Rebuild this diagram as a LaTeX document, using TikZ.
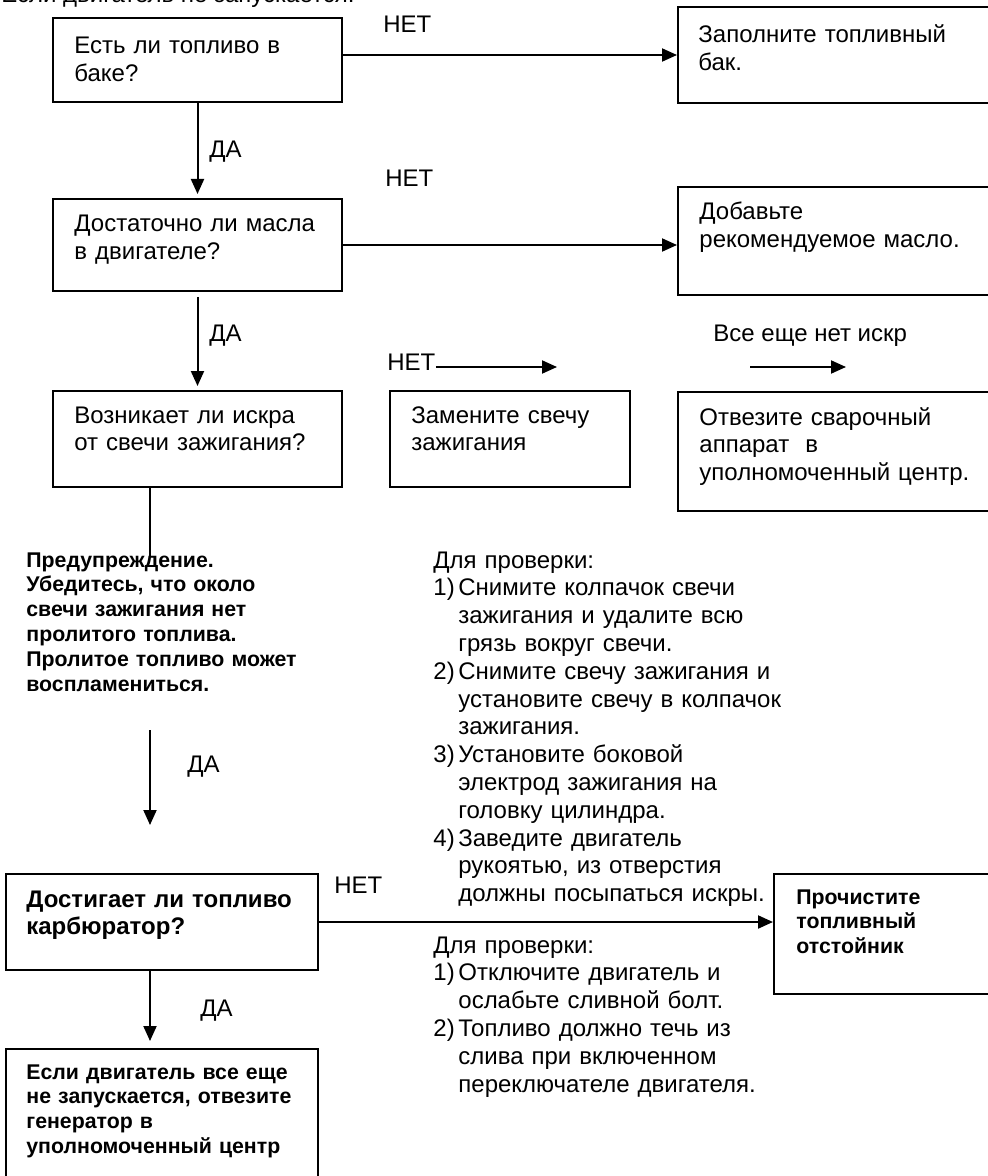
\documentclass[tikz,border=0pt]{standalone}
\usepackage{fontspec}
\setmainfont{Liberation Sans}
\usetikzlibrary{arrows.meta, fit}

\begin{document}
\begin{tikzpicture}[x=0.5pt, y=-0.5pt]
    \tikzset{
        box/.style = {rectangle, draw, line width=1pt, inner sep=0pt},
        lbl/.style = {anchor=base west, inner sep=0pt, font=\fontsize{12pt}{13.9pt}\selectfont},
        txt/.style = {lbl, align=left, text width=200pt},
        bigbold/.style = {txt, font=\fontsize{12pt}{13.9pt}\selectfont\bfseries},
        smallbold/.style = {txt, font=\fontsize{10.65pt}{12.4pt}\selectfont\bfseries},
        line/.style = {draw, line width=1pt, -{Triangle[length=7.5pt, width=6.5pt]}}
    }
    \useasboundingbox (0,0) rectangle (988,1176);
    \clip (0,0) rectangle (988,1176);

    \node[lbl](title) at (1,3) {Если двигатель не запускается.};

    \node[box, fit={(53,18) (342,102)}](b_tank){};
    \node[box, fit={(678,7) (1000,103)}](b_fill){};
    \node[box, fit={(53,199) (342,291)}](b_oil){};
    \node[box, fit={(678,187) (1000,295)}](b_add){};
    \node[box, fit={(53,391) (342,487)}](b_spark){};
    \node[box, fit={(390,391) (630,487)}](b_plug){};
    \node[box, fit={(678,392) (1000,511)}](b_take){};
    \node[box, fit={(6,874) (318,970)}](b_carb){};
    \node[box, fit={(774,874) (1000,994)}](b_clean){};
    \node[box, fit={(6,1049) (318,1200)}](b_final){};

    \node[txt](t_tank) at (74,54) {Есть ли топливо в\\баке?};
    \node[txt](t_fill) at (698,43) {Заполните топливный\\бак.};
    \node[txt](t_oil) at (74,232) {Достаточно ли масла\\в двигателе?};
    \node[txt](t_add) at (699,220) {Добавьте\\рекомендуемое масло.};
    \node[txt](t_spark) at (74,423) {Возникает ли искра\\от свечи зажигания?};
    \node[txt](t_plug) at (411,423) {Замените свечу\\зажигания};
    \node[txt](t_take) at (699,425) {Отвезите сварочный\\аппарат\ \ в\\уполномоченный центр.};
    \node[bigbold](t_carb) at (26,907) {Достигает ли топливо\\карбюратор?};
    \node[smallbold](t_clean) at (796,904) {Прочистите\\топливный\\отстойник};
    \node[smallbold](t_final) at (26,1079) {Если двигатель все еще\\не запускается, отвезите\\генератор в\\уполномоченный центр};

    \node[smallbold](warn) at (26,567) {Предупреждение.\\Убедитесь, что около\\свечи зажигания нет\\пролитого топлива.\\Пролитое топливо может\\воспламениться.};

    \node[txt](check_1) at (433,568) {Для проверки:\\
        \makebox[12.5pt][l]{1)}Снимите колпачок свечи\\
        \hspace*{12.5pt}зажигания и удалите всю\\
        \hspace*{12.5pt}грязь вокруг свечи.\\
        \makebox[12.5pt][l]{2)}Снимите свечу зажигания и\\
        \hspace*{12.5pt}установите свечу в колпачок\\
        \hspace*{12.5pt}зажигания.\\
        \makebox[12.5pt][l]{3)}Установите боковой\\
        \hspace*{12.5pt}электрод зажигания на\\
        \hspace*{12.5pt}головку цилиндра.\\
        \makebox[12.5pt][l]{4)}Заведите двигатель\\
        \hspace*{12.5pt}рукоятью, из отверстия\\
        \hspace*{12.5pt}должны посыпаться искры.};
    \node[txt](check_2) at (433,953) {Для проверки:\\
        \makebox[12.5pt][l]{1)}Отключите двигатель и\\
        \hspace*{12.5pt}ослабьте сливной болт.\\
        \makebox[12.5pt][l]{2)}Топливо должно течь из\\
        \hspace*{12.5pt}слива при включенном\\
        \hspace*{12.5pt}переключателе двигателя.};

    \node[lbl](no_1) at (383,33) {НЕТ};
    \node[lbl](no_2) at (385,187) {НЕТ};
    \node[lbl](no_3) at (387,370) {НЕТ};
    \node[lbl](no_4) at (334,893) {НЕТ};
    \node[lbl](yes_1) at (209,158) {ДА};
    \node[lbl](yes_2) at (209,342) {ДА};
    \node[lbl](yes_3) at (187,772) {ДА};
    \node[lbl](yes_4) at (200,1016) {ДА};
    \node[lbl](still) at (713,342) {Все еще нет искр};

    \coordinate (plug_in) at (557,367);
    \coordinate (still_a) at (750,367);
    \coordinate (still_b) at (846,367);
    \coordinate (warn_top) at (150,557);
    \coordinate (yes_a) at (150,730);
    \coordinate (yes_b) at (150,825);

    \path [line] (b_tank.east |- b_fill.west) -- (b_fill.west);
    \path [line, shorten >=2pt] (b_tank.south) -- (b_oil.north);
    \path [line] (b_oil.east) -- (b_oil.east -| b_add.west);
    \path [line, shorten <=2.5pt, shorten >=2pt] (b_oil.south) -- (b_spark.north);
    \path [line] (no_3.east |- plug_in) -- (plug_in);
    \path [line] (still_a) -- (still_b);
    \draw [line width=1pt] (b_spark.south -| warn_top) -- (warn_top);
    \path [line] (yes_a) -- (yes_b);
    \path [line] (b_carb.east) -- (b_carb.east -| b_clean.west);
    \path [line, shorten >=3.5pt] (b_carb.south -| warn_top) -- (b_final.north -| warn_top);

\end{tikzpicture}
\end{document}
